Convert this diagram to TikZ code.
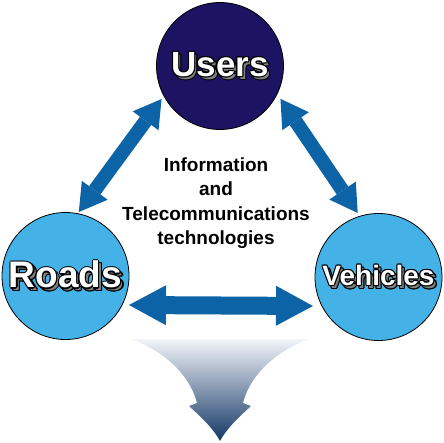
\documentclass[tikz,border=0pt]{standalone}
\usepackage{fontspec}
\setmainfont{Liberation Sans}
\usetikzlibrary{arrows.meta}

\definecolor{navy}{RGB}{28,20,98}
\definecolor{sky}{RGB}{68,178,230}
\definecolor{linkblue}{RGB}{12,100,166}
\definecolor{deepblue}{RGB}{20,56,102}
\definecolor{paleblue}{RGB}{242,244,249}

% copy of a box moved by (dx,dy), taking no width
\newcommand{\shiftbox}[3]{\rlap{\hspace*{#1}\raisebox{#2}{#3}}}
% white letters with black edge and grey shadow
\newcommand{\ringlabel}[1]{%
  \setbox0=\hbox{\bfseries #1}%
  \foreach \a in {0,45,...,315}{%
    \pgfmathsetmacro\dx{2.5+1.1*cos(\a)}%
    \pgfmathsetmacro\dy{-2.5+1.1*sin(\a)}%
    \shiftbox{\dx pt}{\dy pt}{\color{black}\copy0}}%
  \shiftbox{2.5pt}{-2.5pt}{\color{gray}\copy0}%
  \foreach \a in {0,45,...,315}{%
    \pgfmathsetmacro\dx{1.1*cos(\a)}%
    \pgfmathsetmacro\dy{1.1*sin(\a)}%
    \shiftbox{\dx pt}{\dy pt}{\color{black}\copy0}}%
  {\color{white}\copy0}}

\tikzset{
  party/.style={circle, draw=black, line width=0.8pt, minimum size=127pt, inner sep=0pt, outer sep=0pt},
  link/.style={linkblue, line width=14pt, arrows={Triangle[length=27pt,width=32pt,line width=0pt]-Triangle[length=27pt,width=32pt,line width=0pt]}},
  widelink/.style={linkblue, line width=18pt, arrows={Triangle[length=37pt,width=40pt,line width=0pt]-Triangle[length=37pt,width=40pt,line width=0pt]}}
}

\begin{document}
\begin{tikzpicture}[x=1pt, y=-1pt]
			\useasboundingbox (0,0) rectangle (444,442);
			%funnel arrow at the bottom
			\shade[top color=paleblue, bottom color=deepblue] (131,339) .. controls (172,354) and (192,382) .. (197,403) -- (189,406) .. controls (202,418) and (213,428) .. (220,441) .. controls (227,428) and (238,418) .. (251,406) -- (243,403) .. controls (248,382) and (268,354) .. (309,339) -- cycle;
			%the three parties
			\node[party, fill=navy] (users) at (220,66) {\fontsize{35}{40}\selectfont\ringlabel{Users}};
			\node[party, fill=sky] (roads) at (65.5,276) {\fontsize{37}{42}\selectfont\ringlabel{Roads}};
			\node[party, fill=sky] (vehicles) at (378.5,277) {\fontsize{28}{32}\selectfont\ringlabel{Vehicles}};
			%middle text
			\node[align=center, font=\bfseries\fontsize{19}{24.3}\selectfont] (ict) at (216,203) {Information\\and\\Telecommunications\\technologies};
			%arrows between the parties
			\draw[link, shorten <=4pt, shorten >=2pt] (users.208) -- (roads.79);
			\draw[link, shorten <=6pt, shorten >=4pt] (users.-26) -- (vehicles.107);
			\draw[widelink, shorten >=2pt] ([yshift=-29pt]roads.east) -- ([yshift=-29pt]vehicles.west);
		\end{tikzpicture}
\end{document}
